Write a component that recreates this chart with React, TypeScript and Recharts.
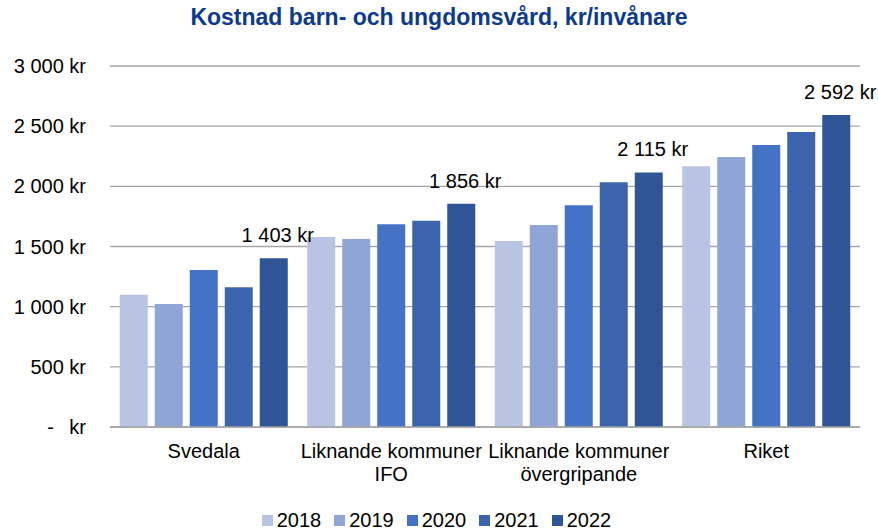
import React from "react";
import { BarChart, Bar, XAxis, YAxis, CartesianGrid, LabelList } from "recharts";

const categories = [
  "Svedala",
  "Liknande kommuner\nIFO",
  "Liknande kommuner\növergripande",
  "Riket",
];
const years = ["2018", "2019", "2020", "2021", "2022"];
const v2018 = [1100, 1579, 1546, 2167];
const v2019 = [1022, 1563, 1679, 2244];
const v2020 = [1305, 1685, 1843, 2344];
const v2021 = [1161, 1715, 2034, 2452];
const v2022 = [1403, 1856, 2115, 2592];
const yTicks = [0, 500, 1000, 1500, 2000, 2500, 3000];

const colors = ["#B9C4E2", "#8FA5D5", "#4472C4", "#3B64AD", "#2F5597"];
const series = [v2018, v2019, v2020, v2021, v2022];

const data = categories.map((name, i) => {
  const row: Record<string, string | number> = { name };
  years.forEach((y, j) => (row[y] = series[j][i]));
  return row;
});

const font = "'Liberation Sans', Arial, sans-serif";
const fs = 20;

const fmt = (v: number) =>
  v === 0 ? "-" : v.toString().replace(/\B(?=(\d{3})+(?!\d))/g, " ");

// axis labels end ~24px left of the plot area
function YTick(props: any) {
  const { x, y, payload } = props;
  const v = payload.value as number;
  if (v === 0) {
    return (
      <g>
        <text x={x - 16} y={y + 7} textAnchor="end" fontSize={fs} fill="#000" fontFamily={font}>kr</text>
        <text x={x - 48} y={y + 7} textAnchor="end" fontSize={fs} fill="#000" fontFamily={font}>-</text>
      </g>
    );
  }
  return (
    <text x={x - 16} y={y + 7} textAnchor="end" fontSize={fs} fill="#000" fontFamily={font}>
      {fmt(v) + " kr"}
    </text>
  );
}

function XTick(props: any) {
  const { x, y, payload } = props;
  const lines = String(payload.value).split("\n");
  return (
    <text x={x} y={y} textAnchor="middle" fontSize={fs} fill="#000" fontFamily={font}>
      {lines.map((l, i) => (
        <tspan key={i} x={x} dy={i === 0 ? 23 : 23}>{l}</tspan>
      ))}
    </text>
  );
}

function TopLabel(props: any) {
  const { x, y, width, value } = props;
  return (
    <text x={x + width / 2 + 4} y={y - 16} textAnchor="middle" fontSize={fs} fill="#000" fontFamily={font}>
      {fmt(value) + " kr"}
    </text>
  );
}

export default function App() {
  return (
    <div style={{ position: "absolute", left: 0, top: 0, width: 878, height: 532, background: "#fff" }}>
      <div
        style={{
          position: "absolute",
          top: 4,
          left: 0,
          width: 878,
          textAlign: "center",
          fontFamily: font,
          fontWeight: "bold",
          fontSize: 23,
          color: "#0D3A8E",
        }}
      >
        Kostnad barn- och ungdomsvård, kr/invånare
      </div>
      <BarChart
        width={878}
        height={532}
        data={data}
        margin={{ top: 66, right: 18, bottom: 55, left: 10 }}
        barGap={7}
        barCategoryGap="5.2%"
      >
        <CartesianGrid vertical={false} stroke="#A6A6A6" strokeWidth={1.3} />
        <YAxis
          domain={[0, 3000]}
          ticks={yTicks}
          width={100}
          axisLine={false}
          tickLine={false}
          tick={<YTick />}
          interval={0}
        />
        <XAxis
          dataKey="name"
          axisLine={{ stroke: "#A6A6A6", strokeWidth: 1.3 }}
          tickLine={false}
          tick={<XTick />}
          interval={0}
          height={50}
        />
        {years.map((y, j) => (
          <Bar key={y} dataKey={y} fill={colors[j]} isAnimationActive={false}>
            {j === 4 && <LabelList dataKey={y} content={<TopLabel />} />}
          </Bar>
        ))}
      </BarChart>
      <div
        style={{
          position: "absolute",
          top: 509,
          left: 0,
          width: 878,
          display: "flex",
          justifyContent: "center",
          fontFamily: font,
          fontSize: fs,
          color: "#000",
        }}
      >
        {years.map((y, j) => (
          <span key={y} style={{ display: "flex", alignItems: "center", marginLeft: j === 0 ? 8 : 0, marginRight: 13 }}>
            <span style={{ width: 11, height: 11, background: colors[j], marginRight: 4, display: "inline-block" }} />
            {y}
          </span>
        ))}
      </div>
    </div>
  );
}
